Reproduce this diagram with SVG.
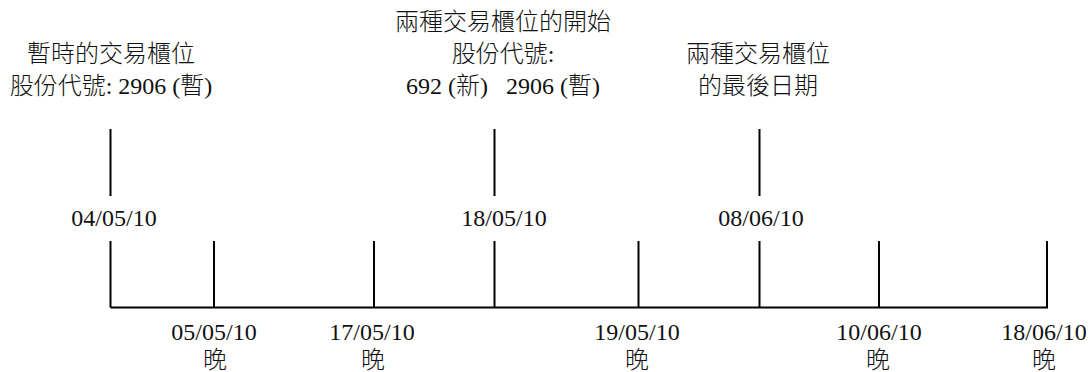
<svg xmlns="http://www.w3.org/2000/svg" width="1088" height="372" viewBox="0 0 1088 372">
<style>
text{font-family:"Liberation Serif","Noto Sans CJK TC",serif;font-size:24px;font-weight:300;fill:#111;text-anchor:middle;white-space:pre}
.ln{stroke:#000;stroke-width:2;fill:none}
</style>
<rect width="1088" height="372" fill="#fff"/>
<g id="connectors">
<path class="ln" d="M110.5 307.5H1047M110.5 129V196M494.5 129V196M759.5 129V196M110.5 241V307.5M214 241V307.5M374 241V307.5M494.5 241V307.5M638.5 241V307.5M759.5 241V307.5M879 241V307.5M1047 241V308.5"/>
</g>
<g id="event-1">
<text x="111" y="61.5">暫時的交易櫃位</text>
<text x="111" y="93.5">股份代號: 2906 (暫)</text>
<text x="114" y="226">04/05/10</text>
</g>
<g id="event-2">
<text x="503" y="29.5">兩種交易櫃位的開始</text>
<text x="503" y="61.5">股份代號:</text>
<text x="503" y="94">692 (新)   2906 (暫)</text>
<text x="504" y="226">18/05/10</text>
</g>
<g id="event-3">
<text x="758" y="61.5">兩種交易櫃位</text>
<text x="758" y="93.5">的最後日期</text>
<text x="761" y="226">08/06/10</text>
</g>
<g id="date-0505"><text x="214" y="340">05/05/10</text><text x="215" y="368">晚</text></g>
<g id="date-1705"><text x="372" y="340">17/05/10</text><text x="373" y="368">晚</text></g>
<g id="date-1905"><text x="637" y="340">19/05/10</text><text x="637" y="368">晚</text></g>
<g id="date-1006"><text x="879" y="340">10/06/10</text><text x="878" y="368">晚</text></g>
<g id="date-1806"><text x="1044" y="340">18/06/10</text><text x="1044" y="368">晚</text></g>
</svg>
